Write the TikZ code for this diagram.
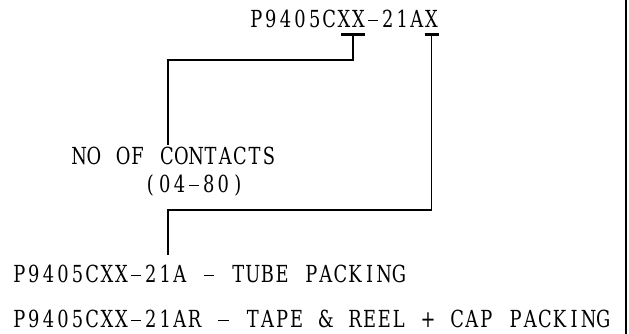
\documentclass[tikz,border=0pt]{standalone}
\usepackage{fontspec}
\usepackage{tikz}
\usetikzlibrary{positioning, calc}
\newfontfamily\cadfont[FakeStretch=0.76]{DejaVu Serif}
\newlength{\cadpitch}
\setlength{\cadpitch}{14.6pt}
\makeatletter
\def\cad@end{\cad@end}
\newcommand{\cad}[1]{{\cadfont\fontsize{23.5pt}{28pt}\selectfont\cad@loop#1\cad@end}}
\def\cad@loop#1{\ifx#1\cad@end\else\makebox[\cadpitch]{#1}\expandafter\cad@loop\fi}
\makeatother
\newcommand{\cadminus}{\rule[6.5pt]{10.5pt}{1.5pt}}

\begin{document}
\begin{tikzpicture}[
    x=1pt, y=1pt,
    cadtext/.style={inner sep=0pt, outer sep=0pt, anchor=base west},
    lead/.style={line width=1.6pt},
    tick/.style={line width=2.4pt}
]
\useasboundingbox (0,0) rectangle (629,334);

% Part number
\node[cadtext] (pn) at (249,306) {\cad{P9405C}};
\node[cadtext] (xx) at (pn.base east) {\cad{XX}};
\node[cadtext] (dash) at (xx.base east) {\cad{\cadminus21A}};
\node[cadtext] (xend) at (dash.base east) {\cad{X}};

% Markers under the variable digits
\coordinate (xxtick) at ($(xx.base)+(2,-6.5)$);
\coordinate (xtick) at ($(xend.base)+(0,-6.5)$);
\draw[tick] ($(xxtick)+(-12,0)$) -- ($(xxtick)+(12,0)$);
\draw[tick] ($(xtick)+(-7,0)$) -- ($(xtick)+(7,0)$);

% Labels
\node[cadtext] (contacts) at (72,169) {\cad{NO~OF~CONTACTS}};
\node[cadtext] (range) at (143,141) {\cad{(04\cadminus80)}};
\node[cadtext] (tube) at (12,51) {\cad{P9405CXX\cadminus21A~\cadminus~TUBE~PACKING}};
\node[cadtext] (reel) at (12,6) {\cad{P9405CXX\cadminus21AR~\cadminus~TAPE~\&~REEL~+~CAP~PACKING}};

% Leaders
\coordinate (cbend) at (168,274);
\coordinate (cfoot) at (168,189);
\coordinate (tbend) at (168,124);
\coordinate (tfoot) at (168,79);
\draw[lead] (xxtick) |- (cbend) -- (cfoot);
\draw[lead] (xtick) |- (tbend) -- (tfoot);

% Frame edge
\draw[lead] (626,0) -- (626,334);

\end{tikzpicture}
\end{document}
